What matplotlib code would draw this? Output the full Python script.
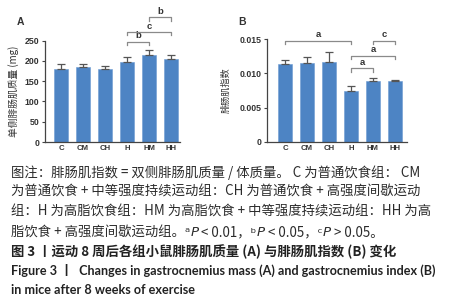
import matplotlib
matplotlib.use("Agg")
import matplotlib.pyplot as plt
import numpy as np

plt.rcParams['font.family'] = ['Noto Sans CJK SC', 'DejaVu Sans']

groups = ["C", "CM", "CH", "H", "HM", "HH"]
mass_mean = [181, 184, 180, 198, 214, 204]
mass_err = [12, 8, 8, 11, 12, 10]
index_mean = [0.0114, 0.0116, 0.0117, 0.0075, 0.0089, 0.0089]
index_err = [0.0005, 0.0008, 0.0014, 0.0007, 0.0004, 0.0002]

# significance brackets: (left group, right group, level, label)
mass_sig = [("H", "HM", 248, "b"), ("H", "HH", 272, "c"), ("HM", "HH", 308, "b")]
index_sig = [("C", "H", 0.0148, "a"), ("HM", "HH", 0.0148, "c"),
             ("H", "HH", 0.0126, "a"), ("H", "HM", 0.01075, "a")]

W, H = 449, 300
fig = plt.figure(figsize=(W / 100, H / 100), dpi=100)

BAR = "#4d84c4"
AX = "#444444"
BR = "#8a8a8a"

def fx(px):
    return px / W

def fy(py):
    return 1 - py / H

def panel(rect, means, errs, ylim, yticks, yticklabels, ylabel, sig, leg, xlim, ylabel_x, ylabel_size):
    ax = fig.add_axes(rect)
    x = np.arange(len(groups))
    ax.bar(x, means, width=0.66, color=BAR, edgecolor="#6d9bd2", linewidth=0.4, zorder=2)
    ax.errorbar(x, means, yerr=[np.zeros(len(errs)), errs], fmt="none",
                ecolor="#555555", elinewidth=0.9, capsize=2.8, capthick=0.9, zorder=3)
    ax.set_xlim(*xlim)
    ax.set_ylim(*ylim)
    ax.set_yticks(yticks)
    ax.set_yticklabels(yticklabels, fontsize=6.3, fontweight="bold", color="#333333",
                       family="Liberation Sans")
    ax.set_xticks(x)
    ax.set_xticklabels(groups, fontsize=5.6, fontweight="bold", color="#333333",
                       family="Liberation Sans")
    ax.tick_params(axis="x", length=0, pad=2.5)
    ax.tick_params(axis="y", length=2.5, width=0.8, color=AX, pad=1.5)
    for s in ["top", "right"]:
        ax.spines[s].set_visible(False)
    for s in ["left", "bottom"]:
        ax.spines[s].set_color(AX)
        ax.spines[s].set_linewidth(0.9)
    fig.text(ylabel_x, rect[1] + rect[3] / 2, ylabel, rotation=90, ha="center", va="center",
             fontsize=ylabel_size, color="#333333")
    span = ylim[1] - ylim[0]
    for g1, g2, lev, lab in sig:
        i1, i2 = groups.index(g1), groups.index(g2)
        leg_len = leg * span
        ax.plot([i1, i1, i2, i2], [lev - leg_len, lev, lev, lev - leg_len], color=BR,
                lw=0.9, clip_on=False, zorder=4)
        ax.text((i1 + i2) / 2, lev + 0.012 * span, lab, ha="center", va="bottom",
                fontsize=6.8, color="#333333", family="Liberation Sans", fontweight="bold",
                clip_on=False)
    return ax

# Panel A
axA = panel([fx(45), fy(142), fx(180 - 45), (142 - 40.7) / H], mass_mean, mass_err,
            (0, 250), [0, 50, 100, 150, 200, 250], ["0", "50", "100", "150", "200", "250"],
            "单侧腓肠肌质量 (mg)", mass_sig, 0.035, (-0.73, 5.4), fx(14), 7)
# Panel B
axB = panel([fx(267), fy(141.7), fx(407 - 267), (141.7 - 39.3) / H], index_mean, index_err,
            (0, 0.015), [0, 0.005, 0.010, 0.015], ["0", "0.005", "0.010", "0.015"],
            "腓肠肌指数", index_sig, 0.035, (-0.82, 5.55), fx(226), 6.6)

fig.text(fx(20), fy(22), "A", fontsize=7.5, fontweight="bold", color="#333333",
         family="Liberation Sans", ha="center", va="center")
fig.text(fx(242), fy(22), "B", fontsize=7.5, fontweight="bold", color="#333333",
         family="Liberation Sans", ha="center", va="center")

# Caption
CAP = "#2b2b2b"
cap_size = 9.6
lines = [
    (172.7, "图注：腓肠肌指数 = 双侧腓肠肌质量 / 体质量。 C 为普通饮食组： CM"),
    (192.0, "为普通饮食 + 中等强度持续运动组：CH 为普通饮食 + 高强度间歇运动"),
    (211.7, "组：H 为高脂饮食组：HM 为高脂饮食 + 中等强度持续运动组：HH 为高"),
]
for yy, t in lines:
    fig.text(fx(11), fy(yy), t, fontsize=cap_size, color=CAP, ha="left", va="center")

# line with superscripts and italic P (segments chained left to right)
segs = [
    ("脂饮食 + 高强度间歇运动组。ᵃ", "normal"),
    ("P", "italic"),
    (" < 0.01，ᵇ", "normal"),
    ("P", "italic"),
    (" < 0.05，ᶜ", "normal"),
    ("P", "italic"),
    (" > 0.05。", "normal"),
]
prev = fig.text(fx(11), fy(232.7), segs[0][0], fontsize=cap_size, color=CAP,
                ha="left", va="center")
for t, st in segs[1:]:
    kw = dict(fontsize=cap_size, color=CAP, ha="left", va="center", annotation_clip=False)
    if st == "italic":
        kw.update(style="italic", family=["DejaVu Sans"])
    prev = axA.annotate(t, xy=(1, 0.5), xycoords=prev, **kw)

fig.text(fx(11), fy(251.7), "图 3 丨运动 8 周后各组小鼠腓肠肌质量 (A) 与腓肠肌指数 (B) 变化",
         fontsize=cap_size, color="#222222", fontweight="bold", ha="left", va="center")
fig.text(fx(11), fy(270.7),
         "Figure 3 丨  Changes in gastrocnemius mass (A) and gastrocnemius index (B)",
         fontsize=9.1, color="#222222", fontweight="bold", ha="left", va="center",
         family=["Lato", "Noto Sans CJK SC"])
fig.text(fx(11), fy(290), "in mice after 8 weeks of exercise",
         fontsize=9.1, color="#222222", fontweight="bold", ha="left", va="center",
         family=["Lato", "Noto Sans CJK SC"])

fig.savefig("out.png", dpi=100)
